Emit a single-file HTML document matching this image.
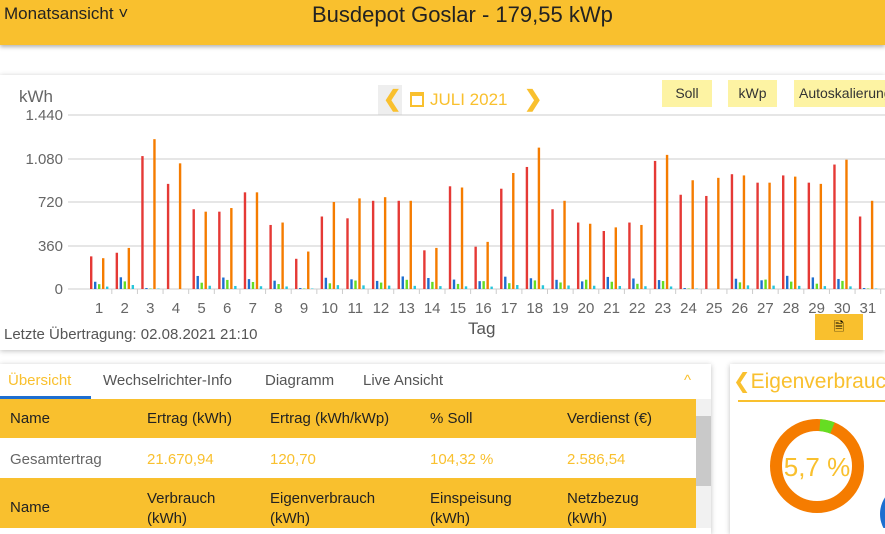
<!DOCTYPE html>
<html><head><meta charset="utf-8">
<style>
*{margin:0;padding:0;box-sizing:border-box}
body{width:885px;height:528px;overflow:hidden;background:#fff;font-family:"Liberation Sans",sans-serif;position:relative}
.hdr{position:absolute;left:0;top:0;width:885px;height:45px;background:#f9c02e;box-shadow:0 2px 4px rgba(0,0,0,.3)}
.abs{position:absolute;white-space:nowrap}
.panel{position:absolute;background:#fff;box-shadow:0 1px 5px rgba(0,0,0,.25)}
.btn{position:absolute;top:80px;height:27px;background:#fdf3a3;font-size:14px;color:#333;line-height:27px;text-align:center}
.th{position:absolute;font-size:15px;color:#222}
.tv{position:absolute;font-size:15px;color:#f9c02e}
</style></head><body>
<div class="hdr"></div>
<div class="abs" style="left:4px;top:4px;font-size:17px;color:#222">Monatsansicht ˅</div>
<div class="abs" style="left:312px;top:2px;font-size:22px;color:#222">Busdepot Goslar - 179,55 kWp</div>

<div class="panel" style="left:0;top:75px;width:885px;height:275px"></div>
<div class="abs" style="left:19px;top:87px;font-size:17px;color:#666">kWh</div>
<div class="abs" style="left:378px;top:85px;width:24px;height:30px;background:#eee"></div>
<div class="abs" style="left:383px;top:86px;font-size:22px;color:#f9c02e;font-weight:bold">❮</div>
<div class="abs" style="left:410px;top:92px;width:14px;height:15px;border:2px solid #f9c02e;border-top-width:4px"></div>
<div class="abs" style="left:430px;top:90px;font-size:17px;color:#f9c02e">JULI 2021</div>
<div class="abs" style="left:524px;top:86px;font-size:22px;color:#f9c02e;font-weight:bold">❯</div>
<div class="btn" style="left:662px;width:50px">Soll</div>
<div class="btn" style="left:728px;width:49px">kWp</div>
<div class="btn" style="left:794px;width:91px;text-align:left;padding-left:5px;overflow:hidden">Autoskalierung</div>

<svg id="ch" class="abs" style="left:0;top:0" width="885" height="350"></svg>
<div class="abs" style="left:4px;top:326px;font-size:15px;color:#555">Letzte Übertragung: 02.08.2021 21:10</div>
<div class="abs" style="left:468px;top:319px;font-size:17px;color:#555">Tag</div>
<div class="abs" style="left:815px;top:314px;width:48px;height:26px;background:#f9c02e;text-align:center;font-size:13px;line-height:26px">🗎</div>

<div class="panel" style="left:0;top:364px;width:711px;height:170px"></div>
<div class="abs" style="left:8px;top:372px;font-size:15px;color:#f9c02e">Übersicht</div>
<div class="abs" style="left:103px;top:372px;font-size:15px;color:#555">Wechselrichter-Info</div>
<div class="abs" style="left:265px;top:372px;font-size:15px;color:#555">Diagramm</div>
<div class="abs" style="left:363px;top:372px;font-size:15px;color:#555">Live Ansicht</div>
<div class="abs" style="left:684px;top:372px;font-size:15px;color:#f9c02e">^</div>
<div class="abs" style="left:0;top:396px;width:91px;height:3px;background:#1e6fd0"></div>
<div class="abs" style="left:0;top:399px;width:696px;height:39px;background:#f9c02e"></div>
<div class="abs" style="left:0;top:478px;width:696px;height:50px;background:#f9c02e"></div>
<div class="abs" style="left:696px;top:399px;width:15px;height:129px;background:#f1f1f1"></div>
<div class="abs" style="left:696px;top:416px;width:15px;height:70px;background:#c9c9c9"></div>
<div class="th" style="left:10px;top:410px">Name</div>
<div class="th" style="left:147px;top:410px">Ertrag (kWh)</div>
<div class="th" style="left:270px;top:410px">Ertrag (kWh/kWp)</div>
<div class="th" style="left:430px;top:410px">% Soll</div>
<div class="th" style="left:567px;top:410px">Verdienst (€)</div>
<div class="th" style="left:10px;top:451px;color:#666">Gesamtertrag</div>
<div class="tv" style="left:147px;top:451px">21.670,94</div>
<div class="tv" style="left:270px;top:451px">120,70</div>
<div class="tv" style="left:430px;top:451px">104,32 %</div>
<div class="tv" style="left:567px;top:451px">2.586,54</div>
<div class="th" style="left:10px;top:499px">Name</div>
<div class="th" style="left:147px;top:489px;line-height:20px">Verbrauch<br>(kWh)</div>
<div class="th" style="left:270px;top:489px;line-height:20px">Eigenverbrauch<br>(kWh)</div>
<div class="th" style="left:430px;top:489px;line-height:20px">Einspeisung<br>(kWh)</div>
<div class="th" style="left:567px;top:489px;line-height:20px">Netzbezug<br>(kWh)</div>

<div class="panel" style="left:730px;top:364px;width:160px;height:170px"></div>
<div class="abs" style="left:733px;top:369px;font-size:21px;color:#f9c02e">❮Eigenverbrauch</div>
<div class="abs" style="left:738px;top:400px;width:147px;height:2px;background:#f9c02e"></div>
<svg class="abs" style="left:730px;top:364px" width="155" height="164">
<circle cx="87" cy="102" r="41" fill="none" stroke="#f57c00" stroke-width="12"/>
<circle cx="87" cy="102" r="41" fill="none" stroke="#66dd22" stroke-width="12" stroke-dasharray="13 300" transform="rotate(-86 87 102)"/>
<text x="87" y="112" text-anchor="middle" font-family="Liberation Sans" font-size="26" fill="#f9c02e">5,7 %</text>
<circle cx="180" cy="150" r="30" fill="#1e6fd0"/>
</svg>

<script>
var red=[270,300,1100,870,660,640,800,530,250,600,585,730,730,320,850,350,830,1010,660,550,480,550,1060,780,770,950,880,940,880,1030,600];
var org=[255,340,1240,1040,640,670,800,550,310,720,750,760,730,340,840,390,960,1170,730,540,510,530,1110,900,920,940,880,930,870,1070,730];
var ch=document.getElementById('ch'),s='';
var y0=289,k=174/1440;
[115,159,202,246,289].forEach(function(y,i){s+='<line x1="68" x2="885" y1="'+y+'" y2="'+y+'" stroke="#ccc"/>';
s+='<text x="63" y="'+(y+5)+'" text-anchor="end" font-family="Liberation Sans" font-size="15" fill="#666">'+['1.440','1.080','720','360','0'][i]+'</text>';});
for(var d=0;d<31;d++){var c=99+d*25.63;
var low=(d==2||d==3||d==8||d==23||d==24||d==30);
var b=low?[8,4,4]:[60+((d*37)%50),40+((d*23)%40),20+((d*13)%15)];
if(d==3||d==24){b=[0,0,0];}
s+='<line x1="'+(c+12.8)+'" x2="'+(c+12.8)+'" y1="289" y2="294" stroke="#ccc"/>';
var bars=[[-8,red[d],'#e53935'],[-4,b[0],'#1e6fd0'],[0,b[1],'#66dd22'],[4,org[d],'#f57c00'],[8,b[2],'#26c6da']];
bars.forEach(function(q){var h=q[1]*k;s+='<rect x="'+(c+q[0]-1)+'" y="'+(y0-h)+'" width="2.4" height="'+h+'" fill="'+q[2]+'"/>';});
s+='<text x="'+c+'" y="313" text-anchor="middle" font-family="Liberation Sans" font-size="15" fill="#666">'+(d+1)+'</text>';}
ch.innerHTML=s;
</script>
</body></html>
